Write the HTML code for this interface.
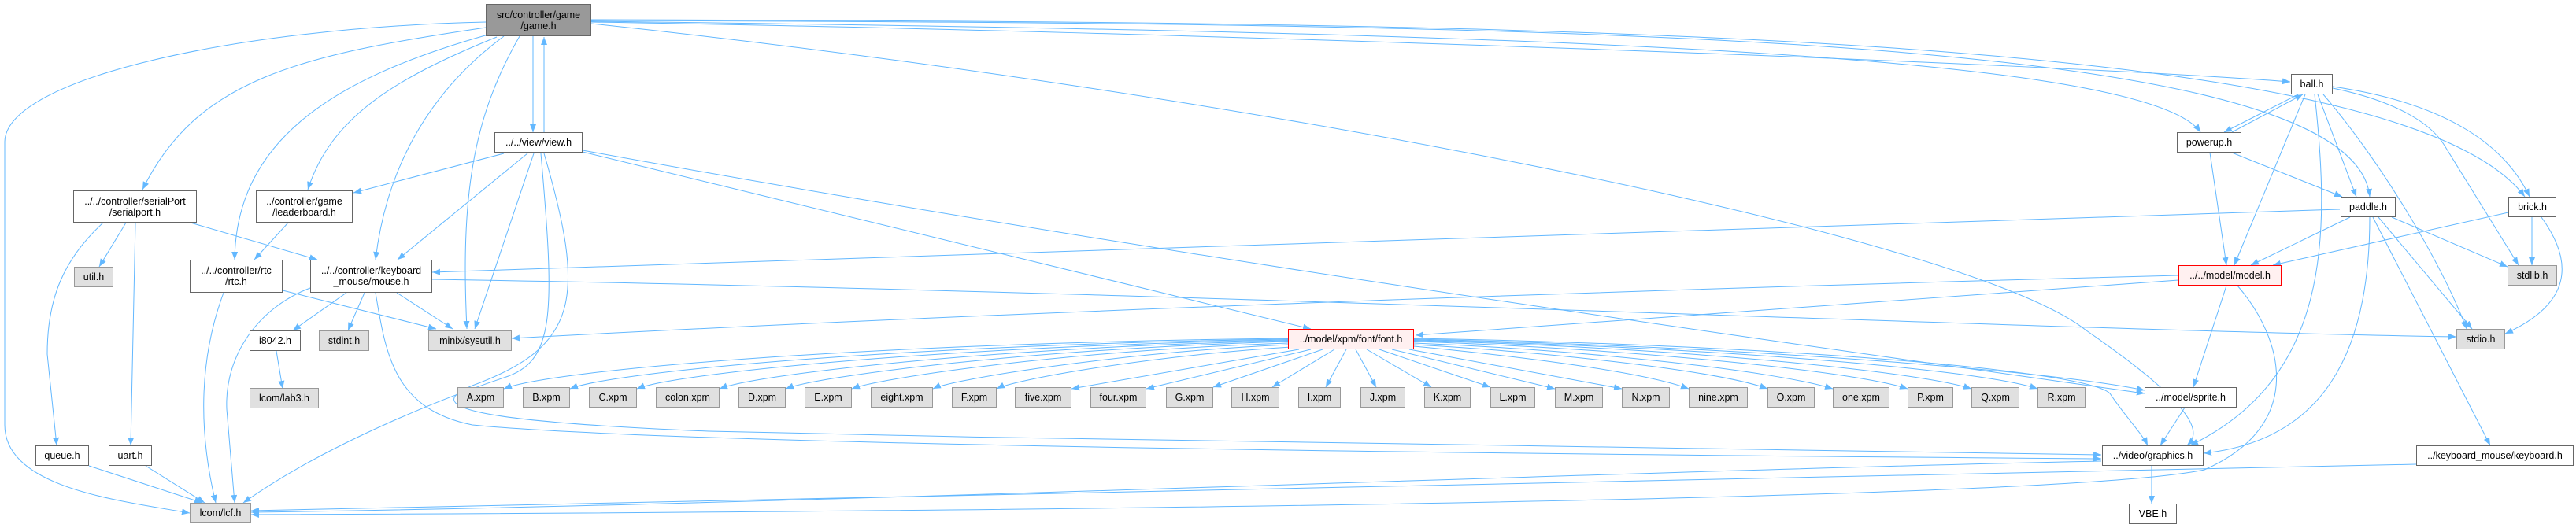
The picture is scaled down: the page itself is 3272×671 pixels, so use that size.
<!DOCTYPE html>
<html><head><meta charset="utf-8"><style>
html,body{margin:0;padding:0;background:#fff;}
body{width:3272px;height:671px;position:relative;overflow:hidden;font-family:"Liberation Sans",Arial,sans-serif;}
.n{position:absolute;box-sizing:border-box;border:1px solid #666;background:#fff;display:flex;align-items:center;justify-content:center;text-align:center;font-size:12.5px;line-height:14px;color:#000;white-space:nowrap;}
.g{background:#e0e0e0;border-color:#999;}
.r{background:#fff0f0;border-color:#f00;}
.d{background:#999;border-color:#666;}
svg{position:absolute;left:0;top:0;}
</style></head><body>
<svg width="3272" height="671" viewBox="0 0 3272 671">
<defs><marker id="a" markerUnits="userSpaceOnUse" markerWidth="11" markerHeight="8" refX="10" refY="4" orient="auto"><path d="M0,0 L10,4 L0,8 z" fill="#63b8ff"/></marker></defs>
<g fill="none" stroke="#63b8ff" stroke-width="1" marker-end="url(#a)">
<!-- game.h -->
<path d="M617,28 C300,35 8,100 6,180 L6,540 C6,620 150,636 241,652"/>
<path d="M617,35 C380,70 250,100 181,241"/>
<path d="M620,44 C420,100 300,180 298,330"/>
<path d="M631,47 C500,100 420,150 391,241"/>
<path d="M640,46 C540,120 490,220 477,330"/>
<path d="M660,46 C600,150 585,250 593,418"/>
<path d="M677,46 L677,168"/>
<path d="M691,168 L691,47"/>
<path d="M751,28 C1500,40 2600,80 2909,104"/>
<path d="M751,27 C1800,40 2720,60 2795,168"/>
<path d="M751,26 C2000,30 2990,40 3010,250"/>
<path d="M751,25 C2000,28 3050,40 3207,250"/>
<path d="M751,30 C1600,120 2500,300 2650,420 C2810,530 2790,555 2778,566"/>
<!-- view.h -->
<path d="M640,195 L449,245"/>
<path d="M670,195 L505,330"/>
<path d="M678,195 L603,418"/>
<path d="M687,195 C705,400 705,460 640,480 C580,500 420,560 309,639"/>
<path d="M691,195 C745,380 735,440 600,490 C540,515 580,535 900,548 C1600,565 2400,572 2669,578"/>
<path d="M740,193 L1665,418"/>
<path d="M740,191 C1500,330 2300,440 2724,500"/>
<!-- serialport -->
<path d="M160,283 L126,339"/>
<path d="M131,283 C80,330 60,380 60,450 L72,566"/>
<path d="M172,283 L166,566"/>
<path d="M242,283 L403,330"/>
<!-- leaderboard -->
<path d="M366,283 L323,330"/>
<!-- rtc -->
<path d="M284,372 C255,450 250,540 274,639"/>
<path d="M359,369 L554,418"/>
<!-- mouse -->
<path d="M440,372 L372,420"/>
<path d="M463,372 L442,420"/>
<path d="M504,372 L575,418"/>
<path d="M394,366 C330,390 285,450 288,520 L298,639"/>
<path d="M477,372 C490,450 500,520 600,540 C900,570 2300,580 2669,583"/>
<path d="M549,355 C1500,370 2600,420 3120,428"/>
<!-- misc -->
<path d="M351,446 L359,494"/>
<path d="M113,592 L257,639"/>
<path d="M185,592 L260,639"/>
<!-- to lcf -->
<path d="M2669,586 C2000,600 1000,642 319,651"/>
<path d="M2842,363 C2900,430 2930,540 2800,597 C2600,640 1000,652 319,654"/>
<path d="M3069,590 C2000,620 1000,640 319,649"/>
<path d="M2733,592 L2733,640"/>
<path d="M2775,518 L2744,566"/>
<!-- font.h to xpms -->
<path d="M1636,430 C1100,436 700,470 640,494"/>
<path d="M1636,431 C1150,438 780,472 724,494"/>
<path d="M1636,432 C1200,440 860,474 809,494"/>
<path d="M1636,433 C1250,442 960,476 914,494"/>
<path d="M1636,434 C1300,444 1040,478 998,494"/>
<path d="M1636,436 C1350,446 1120,480 1082,494"/>
<path d="M1636,438 C1420,448 1210,482 1185,494"/>
<path d="M1640,441 C1460,452 1290,482 1266,494"/>
<path d="M1650,444 L1361,494"/>
<path d="M1665,444 L1456,494"/>
<path d="M1680,444 L1541,492"/>
<path d="M1695,444 L1616,492"/>
<path d="M1710,444 L1684,492"/>
<path d="M1722,444 L1748,492"/>
<path d="M1736,444 L1818,492"/>
<path d="M1752,444 L1893,492"/>
<path d="M1768,444 L1975,494"/>
<path d="M1790,444 L2060,494"/>
<path d="M1796,440 C1900,450 2080,470 2145,494"/>
<path d="M1796,438 C1950,446 2180,470 2245,494"/>
<path d="M1796,436 C2000,444 2250,470 2328,494"/>
<path d="M1796,434 C2050,442 2350,470 2423,494"/>
<path d="M1796,433 C2100,440 2430,470 2504,494"/>
<path d="M1796,432 C2150,440 2510,468 2588,494"/>
<path d="M1796,431 C2200,440 2600,470 2724,496"/>
<path d="M1796,430 C2250,438 2650,470 2680,500 C2700,530 2720,550 2728,566"/>
<!-- model.h -->
<path d="M2767,356 L1798,426"/>
<path d="M2767,350 C2000,370 1200,400 650,430"/>
<path d="M2828,363 L2786,492"/>
<!-- ball.h -->
<path d="M2919,120 L2825,168"/>
<path d="M2835,168 L2925,120"/>
<path d="M2928,120 L2838,337"/>
<path d="M2940,120 C2960,300 2960,480 2782,566"/>
<path d="M2944,120 L2993,250"/>
<path d="M2951,120 C3020,200 3100,330 3133,418"/>
<path d="M2963,112 C3050,130 3090,160 3105,185 L3199,337"/>
<path d="M2963,110 C3100,130 3180,180 3213,250"/>
<!-- powerup -->
<path d="M2835,194 L2975,250"/>
<path d="M2807,194 L2828,337"/>
<!-- paddle -->
<path d="M2972,266 L549,346"/>
<path d="M2985,276 L2859,337"/>
<path d="M3038,276 L3185,339"/>
<path d="M3021,276 L3140,418"/>
<path d="M3010,276 C3010,450 2950,560 2799,576"/>
<path d="M3014,276 L3163,566"/>
<!-- brick -->
<path d="M3186,270 L2887,337"/>
<path d="M3216,276 L3216,337"/>
<path d="M3228,276 C3260,320 3280,380 3182,424"/>
</g>
</svg>
<div class="n d" style="left:617px;top:5px;width:134px;height:41px;">src/controller/game<br>/game.h</div>
<div class="n" style="left:628px;top:168px;width:112px;height:26px;">../../view/view.h</div>
<div class="n" style="left:93px;top:242px;width:157px;height:41px;">../../controller/serialPort<br>/serialport.h</div>
<div class="n" style="left:325px;top:242px;width:123px;height:41px;">../controller/game<br>/leaderboard.h</div>
<div class="n g" style="left:94px;top:339px;width:50px;height:26px;">util.h</div>
<div class="n" style="left:241px;top:330px;width:118px;height:42px;">../../controller/rtc<br>/rtc.h</div>
<div class="n" style="left:394px;top:330px;width:155px;height:42px;">../../controller/keyboard<br>_mouse/mouse.h</div>
<div class="n" style="left:317px;top:420px;width:65px;height:26px;">i8042.h</div>
<div class="n g" style="left:405px;top:420px;width:64px;height:26px;">stdint.h</div>
<div class="n g" style="left:544px;top:420px;width:106px;height:26px;">minix/sysutil.h</div>
<div class="n g" style="left:317px;top:493px;width:88px;height:26px;">lcom/lab3.h</div>
<div class="n" style="left:45px;top:566px;width:68px;height:26px;">queue.h</div>
<div class="n" style="left:138px;top:566px;width:55px;height:26px;">uart.h</div>
<div class="n g" style="left:241px;top:639px;width:78px;height:26px;">lcom/lcf.h</div>
<div class="n r" style="left:1636px;top:418px;width:160px;height:26px;">../model/xpm/font/font.h</div>
<div class="n g" style="left:581px;top:492px;width:59px;height:26px;">A.xpm</div>
<div class="n g" style="left:664px;top:492px;width:60px;height:26px;">B.xpm</div>
<div class="n g" style="left:748px;top:492px;width:61px;height:26px;">C.xpm</div>
<div class="n g" style="left:833px;top:492px;width:81px;height:26px;">colon.xpm</div>
<div class="n g" style="left:938px;top:492px;width:60px;height:26px;">D.xpm</div>
<div class="n g" style="left:1022px;top:492px;width:60px;height:26px;">E.xpm</div>
<div class="n g" style="left:1106px;top:492px;width:79px;height:26px;">eight.xpm</div>
<div class="n g" style="left:1209px;top:492px;width:57px;height:26px;">F.xpm</div>
<div class="n g" style="left:1289px;top:492px;width:72px;height:26px;">five.xpm</div>
<div class="n g" style="left:1385px;top:492px;width:71px;height:26px;">four.xpm</div>
<div class="n g" style="left:1481px;top:492px;width:60px;height:26px;">G.xpm</div>
<div class="n g" style="left:1564px;top:492px;width:61px;height:26px;">H.xpm</div>
<div class="n g" style="left:1649px;top:492px;width:54px;height:26px;">I.xpm</div>
<div class="n g" style="left:1728px;top:492px;width:57px;height:26px;">J.xpm</div>
<div class="n g" style="left:1809px;top:492px;width:59px;height:26px;">K.xpm</div>
<div class="n g" style="left:1893px;top:492px;width:57px;height:26px;">L.xpm</div>
<div class="n g" style="left:1975px;top:492px;width:61px;height:26px;">M.xpm</div>
<div class="n g" style="left:2060px;top:492px;width:61px;height:26px;">N.xpm</div>
<div class="n g" style="left:2145px;top:492px;width:75px;height:26px;">nine.xpm</div>
<div class="n g" style="left:2245px;top:492px;width:60px;height:26px;">O.xpm</div>
<div class="n g" style="left:2328px;top:492px;width:72px;height:26px;">one.xpm</div>
<div class="n g" style="left:2423px;top:492px;width:58px;height:26px;">P.xpm</div>
<div class="n g" style="left:2504px;top:492px;width:61px;height:26px;">Q.xpm</div>
<div class="n g" style="left:2588px;top:492px;width:61px;height:26px;">R.xpm</div>
<div class="n" style="left:2724px;top:492px;width:117px;height:26px;">../model/sprite.h</div>
<div class="n" style="left:2670px;top:566px;width:129px;height:26px;">../video/graphics.h</div>
<div class="n" style="left:2704px;top:640px;width:61px;height:26px;">VBE.h</div>
<div class="n" style="left:3069px;top:566px;width:200px;height:26px;">../keyboard_mouse/keyboard.h</div>
<div class="n" style="left:2910px;top:94px;width:53px;height:26px;">ball.h</div>
<div class="n" style="left:2765px;top:168px;width:82px;height:26px;">powerup.h</div>
<div class="n" style="left:2973px;top:250px;width:70px;height:26px;">paddle.h</div>
<div class="n" style="left:3186px;top:250px;width:61px;height:26px;">brick.h</div>
<div class="n r" style="left:2767px;top:337px;width:131px;height:26px;">../../model/model.h</div>
<div class="n g" style="left:3185px;top:337px;width:63px;height:26px;">stdlib.h</div>
<div class="n g" style="left:3120px;top:418px;width:62px;height:26px;">stdio.h</div>
</body></html>
